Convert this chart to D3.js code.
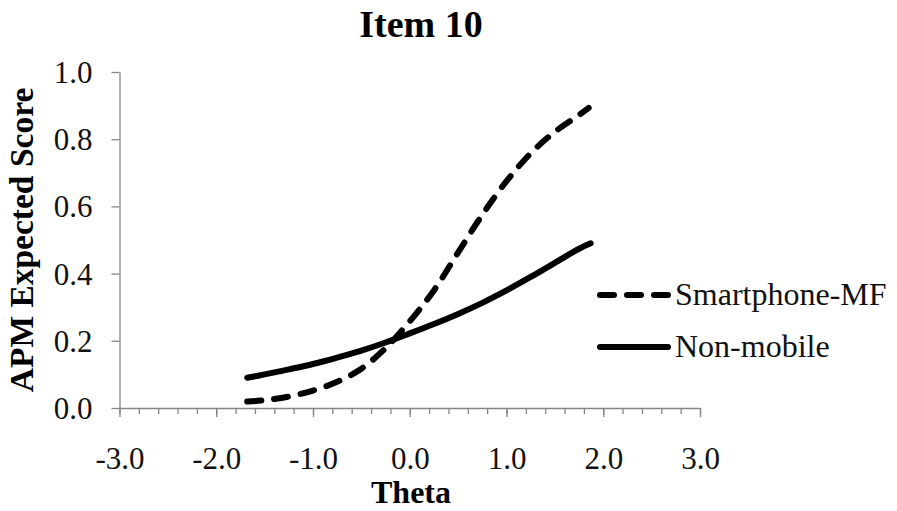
<!DOCTYPE html>
<html>
<head>
<meta charset="utf-8">
<script src="https://cdn.jsdelivr.net/npm/d3@7"></script>
<style>
  body { margin: 0; background: #fff; }
  svg { display: block; }
  .axis path, .axis line { stroke: #868686; stroke-width: 1.3; }
  .axis text { font-family: "Liberation Serif", "Times New Roman", serif; font-size: 31px; fill: #111; }
  .title, .axis-title { font-family: "Liberation Serif", "Times New Roman", serif; font-weight: bold; fill: #000; }
  .legend text { font-family: "Liberation Serif", "Times New Roman", serif; font-size: 32px; fill: #111; }
</style>
</head>
<body>
<svg id="chart"></svg>
<script>
// theta values
const thetaSmart = [-1.68, -1.5, -1.25, -1.0, -0.75, -0.5, -0.25, 0.0, 0.25, 0.5, 0.75, 1.0, 1.25, 1.5, 1.75, 1.85];
const scoreSmart = [0.019, 0.023, 0.034, 0.052, 0.078, 0.117, 0.178, 0.258, 0.35, 0.463, 0.575, 0.675, 0.758, 0.822, 0.872, 0.893];

const thetaNon = [-1.68, -1.5, -1.25, -1.0, -0.75, -0.5, -0.25, 0.0, 0.25, 0.5, 0.75, 1.0, 1.25, 1.5, 1.75, 1.87];
const scoreNon = [0.09, 0.10, 0.115, 0.131, 0.15, 0.171, 0.195, 0.222, 0.25, 0.28, 0.313, 0.35, 0.39, 0.432, 0.474, 0.49];

const seriesNames = ["Smartphone-MF", "Non-mobile"];
const xTicks = [-3, -2, -1, 0, 1, 2, 3];
const xMinorTicks = d3.range(-3, 3.001, 0.2);
const yTicks = [0, 0.2, 0.4, 0.6, 0.8, 1.0];

const config = {
  width: 897,
  height: 511,
  margin: { top: 72, right: 197, bottom: 103, left: 119.5 }
};

const svg = d3.select("#chart")
  .attr("width", config.width)
  .attr("height", config.height);

const innerW = config.width - config.margin.left - config.margin.right;
const innerH = config.height - config.margin.top - config.margin.bottom;

const xScale = d3.scaleLinear().domain([-3, 3]).range([0, innerW]);
const yScale = d3.scaleLinear().domain([0, 1]).range([innerH, 0]);

const chart = svg.append("g")
  .attr("transform", `translate(${config.margin.left},${config.margin.top})`);

// Title
svg.append("text")
  .attr("class", "title")
  .attr("x", 421)
  .attr("y", 37)
  .attr("text-anchor", "middle")
  .style("font-size", "38px")
  .text("Item 10");

// Minor x ticks
chart.append("g")
  .attr("class", "axis")
  .attr("transform", `translate(0,${innerH})`)
  .call(d3.axisBottom(xScale).tickValues(xMinorTicks).tickSize(6).tickSizeOuter(0).tickFormat(""))
  .select(".domain").remove();

// Major x axis
const xAxisG = chart.append("g")
  .attr("class", "axis")
  .attr("transform", `translate(0,${innerH})`)
  .call(d3.axisBottom(xScale).tickValues(xTicks).tickSize(9).tickSizeOuter(0).tickFormat(d3.format(".1f")));
xAxisG.selectAll("text").attr("y", 61).attr("dy", 0);
xAxisG.selectAll("text").text(d => d3.format(".1f")(d).replace("−", "-"));

// y axis
const yAxisG = chart.append("g")
  .attr("class", "axis")
  .call(d3.axisLeft(yScale).tickValues(yTicks).tickSize(8).tickSizeOuter(0).tickFormat(d3.format(".1f")));
yAxisG.selectAll("text").attr("x", -27).attr("dy", "0.34em");

// Axis titles
svg.append("text")
  .attr("class", "axis-title")
  .attr("x", 411)
  .attr("y", 503)
  .attr("text-anchor", "middle")
  .style("font-size", "32px")
  .text("Theta");

svg.append("text")
  .attr("class", "axis-title")
  .attr("transform", "translate(33,240) rotate(-90)")
  .attr("text-anchor", "middle")
  .style("font-size", "33.5px")
  .text("APM Expected Score");

// Lines
const line = d3.line()
  .x(d => xScale(d[0]))
  .y(d => yScale(d[1]))
  .curve(d3.curveCatmullRom.alpha(0.5));

const series = [
  { name: seriesNames[0], pts: d3.zip(thetaSmart, scoreSmart), dash: "14,13" },
  { name: seriesNames[1], pts: d3.zip(thetaNon, scoreNon), dash: null }
];

chart.selectAll(".series")
  .data(series)
  .join("path")
  .attr("class", "series")
  .attr("d", d => line(d.pts))
  .attr("fill", "none")
  .attr("stroke", "#000")
  .attr("stroke-width", 6)
  .attr("stroke-linecap", "round")
  .attr("stroke-dasharray", d => d.dash);

// Legend
const legend = svg.append("g").attr("class", "legend");
const legendY = [295, 347];

legend.selectAll("line")
  .data(series)
  .join("line")
  .attr("x1", 600)
  .attr("x2", 668)
  .attr("y1", (d, i) => legendY[i])
  .attr("y2", (d, i) => legendY[i])
  .attr("stroke", "#000")
  .attr("stroke-width", 6)
  .attr("stroke-linecap", "round")
  .attr("stroke-dasharray", d => d.dash);

legend.selectAll("text")
  .data(series)
  .join("text")
  .attr("x", 675)
  .attr("y", (d, i) => legendY[i] + 10)
  .text(d => d.name);
</script>
</body>
</html>
